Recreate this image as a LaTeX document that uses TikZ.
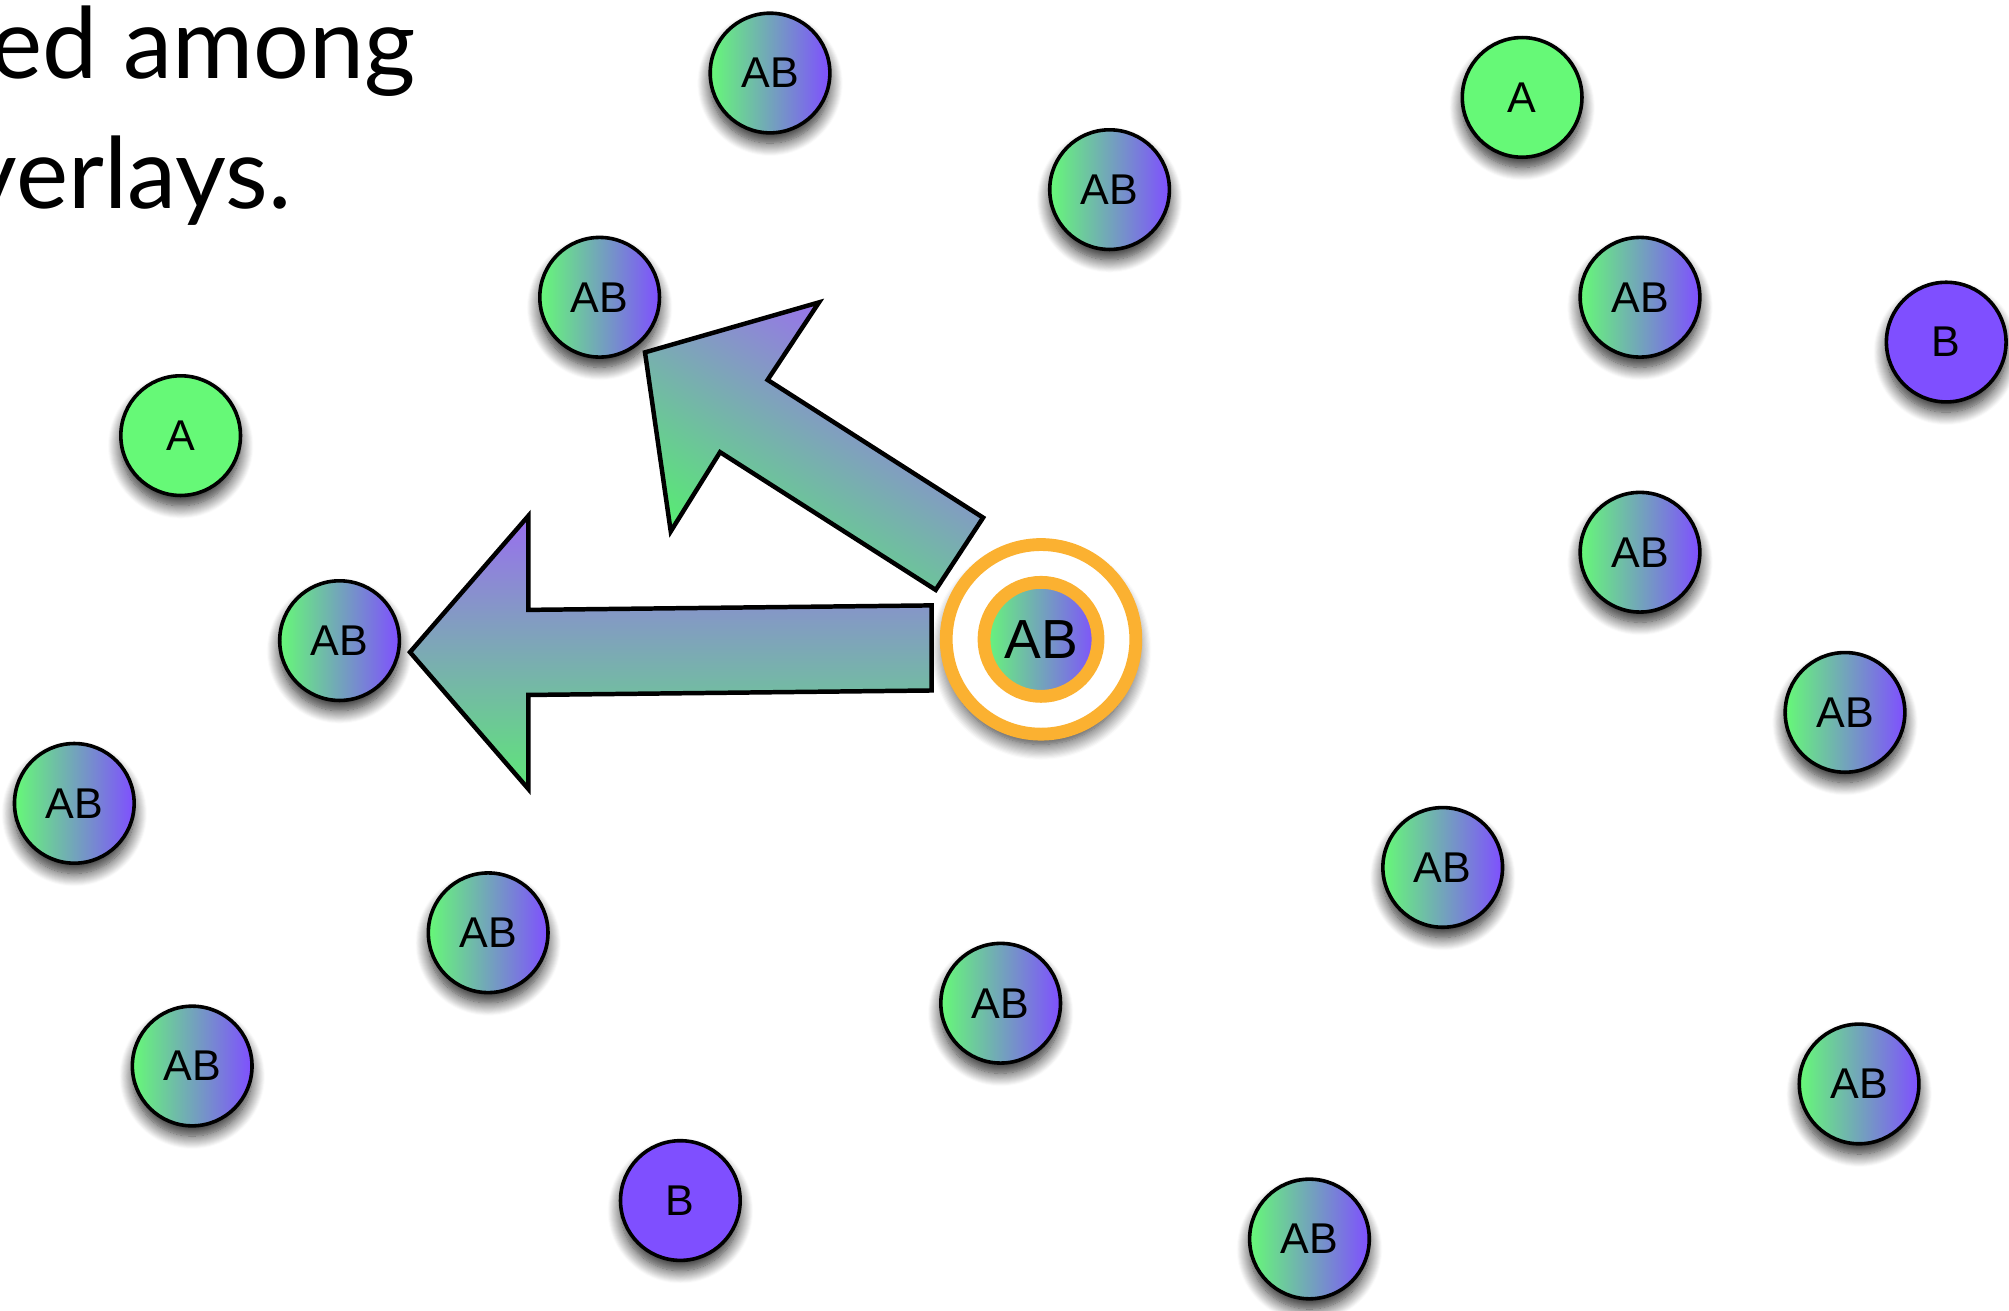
\documentclass[tikz,border=0pt]{standalone}
\usepackage{fontspec}
\usetikzlibrary{shadows.blur}
\newfontfamily\helv{Liberation Sans}
\newfontfamily\titlefont{Lato}
\definecolor{gA}{RGB}{102,249,119}
\definecolor{pB}{RGB}{127,79,255}
\definecolor{arP}{RGB}{153,110,240}
\definecolor{arG}{RGB}{94,230,120}
\definecolor{arP2}{RGB}{160,100,250}
\definecolor{arG2}{RGB}{85,240,110}
\definecolor{orC}{RGB}{251,177,49}
\tikzset{
  shd/.style={blur shadow={shadow xshift=0pt, shadow yshift=-4pt, shadow blur radius=5pt,
      shadow blur steps=14, shadow opacity=85}},
  bub/.style={circle, draw=black, line width=1.4pt, minimum size=46.7pt, inner sep=0pt,
    font=\helv\fontsize{16.8}{18}\selectfont, shd},
  ab/.style={bub, left color=gA, right color=pB},
  aa/.style={bub, fill=gA},
  bb/.style={bub, fill=pB},
  bigarrow/.style={draw=black, line width=1.75pt, line join=miter},
  titletext/.style={anchor=base east, inner sep=0pt, font=\titlefont\fontsize{38.5}{40}\selectfont}
}
\begin{document}
\begin{tikzpicture}[x=0.5pt, y=-0.5pt]
\useasboundingbox (0,0) rectangle (1568,1023);
% title
\node[titletext] (t1) at (325,61) {ed among};
\node[titletext] (t2) at (228,162.5) {verlays.};
% circles
\node[ab] (n1) at (601,57) {AB};
\node[ab] (n2) at (866,148) {AB};
\node[aa] (n3) at (1188,76) {A};
\node[ab] (n4) at (468,232) {AB};
\node[ab] (n5) at (1280,232) {AB};
\node[bb] (n6) at (1519,267) {B};
\node[aa] (n7) at (141,340) {A};
\node[ab] (n8) at (1280,431) {AB};
\node[ab] (n9) at (265,500) {AB};
\node[ab] (n11) at (1440,556) {AB};
\node[ab] (n12) at (58,627) {AB};
\node[ab] (n13) at (1126,677) {AB};
\node[ab] (n14) at (381,728) {AB};
\node[ab] (n15) at (781,783) {AB};
\node[ab] (n16) at (150,832) {AB};
\node[ab] (n17) at (1451,846) {AB};
\node[bb] (n18) at (531,937) {B};
\node[ab] (n19) at (1022,967) {AB};
% central node
\node[circle, draw=orC, line width=5pt, fill=white, minimum size=74pt, inner sep=0pt,
  blur shadow={shadow xshift=0pt, shadow yshift=-4pt, shadow blur radius=6pt,
      shadow blur steps=14, shadow opacity=85}] (c) at (812.5,499) {};
\node[circle, draw=orC, line width=5pt, left color=gA, right color=pB, minimum size=44.5pt,
  inner sep=0pt, font=\helv\fontsize{21.5}{24}\selectfont] (cin) at (c) {AB};
% arrows
\draw[bigarrow, top color=arP, bottom color=arG]
  (727.2,472.5) -- (412.4,476) -- (412.4,402.6) -- (320,509) -- (412.4,615.8)
  -- (412.4,542.4) -- (727.2,538.9) -- cycle;
\draw[bigarrow, top color=arP2, bottom color=arG2, shading angle=-32.6]
  (767.3,404) -- (599.1,296.5) -- (639.2,236) -- (503.4,275) -- (523.5,414.7)
  -- (562,352.9) -- (730.3,460.4) -- cycle;
\end{tikzpicture}
\end{document}
